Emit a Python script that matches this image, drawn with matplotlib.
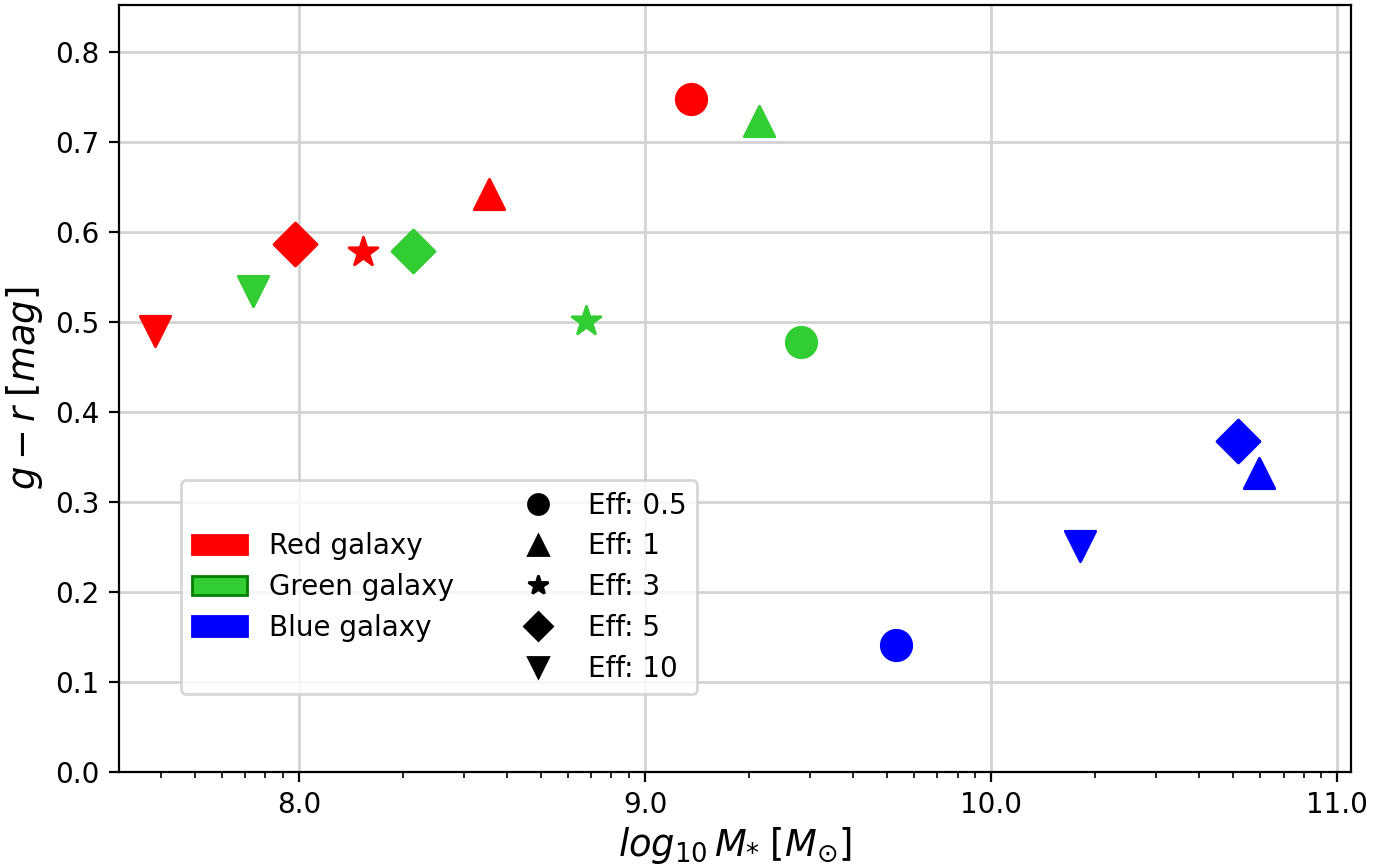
import numpy as np
import matplotlib
matplotlib.use("Agg")
import matplotlib.pyplot as plt
from matplotlib.patches import Patch
from matplotlib.lines import Line2D
from matplotlib.ticker import FixedLocator, FuncFormatter, LogLocator, NullFormatter

# log10 stellar mass and g-r colour for each galaxy / efficiency
eff_labels = ["Eff: 0.5", "Eff: 1", "Eff: 3", "Eff: 5", "Eff: 10"]
eff_markers = ["o", "^", "*", "D", "v"]

red_logm = [9.133, 8.549, 8.185, 7.990, 7.584]
red_gr = [0.748, 0.642, 0.578, 0.587, 0.490]

green_logm = [9.451, 9.329, 8.829, 8.329, 7.867]
green_gr = [0.478, 0.723, 0.501, 0.579, 0.534]

# blue has no Eff 3 point
blue_logm = [9.725, 10.775, None, 10.714, 10.257]
blue_gr = [0.141, 0.332, None, 0.368, 0.251]

galaxies = [
    ("Red galaxy", "red", "red", red_logm, red_gr),
    ("Green galaxy", "limegreen", "green", green_logm, green_gr),
    ("Blue galaxy", "blue", "blue", blue_logm, blue_gr),
]

fig = plt.figure(figsize=(6.99, 4.34), dpi=200)
ax = fig.add_axes([0.0851, 0.1106, 0.8813, 0.8836])

for name, col, edge, xs, ys in galaxies:
    for i in range(len(xs)):
        if xs[i] is None:
            continue
        ax.scatter(10 ** xs[i], ys[i], s=120, marker=eff_markers[i], color=col, zorder=3)

ax.set_xscale("log")
ax.set_xlim(10 ** 7.48, 10 ** 11.04)
ax.set_ylim(0, 0.852)
ax.xaxis.set_major_locator(FixedLocator([1e8, 1e9, 1e10, 1e11]))
ax.xaxis.set_major_formatter(FuncFormatter(lambda v, p: f"{np.log10(v):.1f}"))
ax.xaxis.set_minor_locator(LogLocator(base=10, subs=np.arange(2, 10)))
ax.xaxis.set_minor_formatter(NullFormatter())
ax.set_yticks(np.arange(0, 0.81, 0.1))
ax.grid(True, color="#d3d3d3", linewidth=1)
ax.set_axisbelow(True)
ax.tick_params(labelsize=10)

ax.set_xlabel(r"$log_{10}\,M_{*}\;[M_{\odot}]$", fontsize=13.3, labelpad=2)
ax.set_ylabel(r"$g-r\;[mag]$", fontsize=13.3, labelpad=3.5)

# legend: galaxy colours in the left column, efficiency markers in the right
blank = Line2D([], [], linestyle="none")
handles = [blank]
labels = [" "]
for name, col, edge, xs, ys in galaxies:
    handles.append(Patch(facecolor=col, edgecolor=edge))
    labels.append(name)
handles.append(blank)
labels.append(" ")
for m, lab in zip(eff_markers, eff_labels):
    handles.append(Line2D([], [], linestyle="none", marker=m, color="black", markersize=7.2))
    labels.append(lab)

ax.legend(handles, labels, ncol=2, loc="lower left", bbox_to_anchor=(0.05, 0.102),
          borderaxespad=0, fontsize=10, labelspacing=0.46)

fig.savefig("out.png", dpi=200)
